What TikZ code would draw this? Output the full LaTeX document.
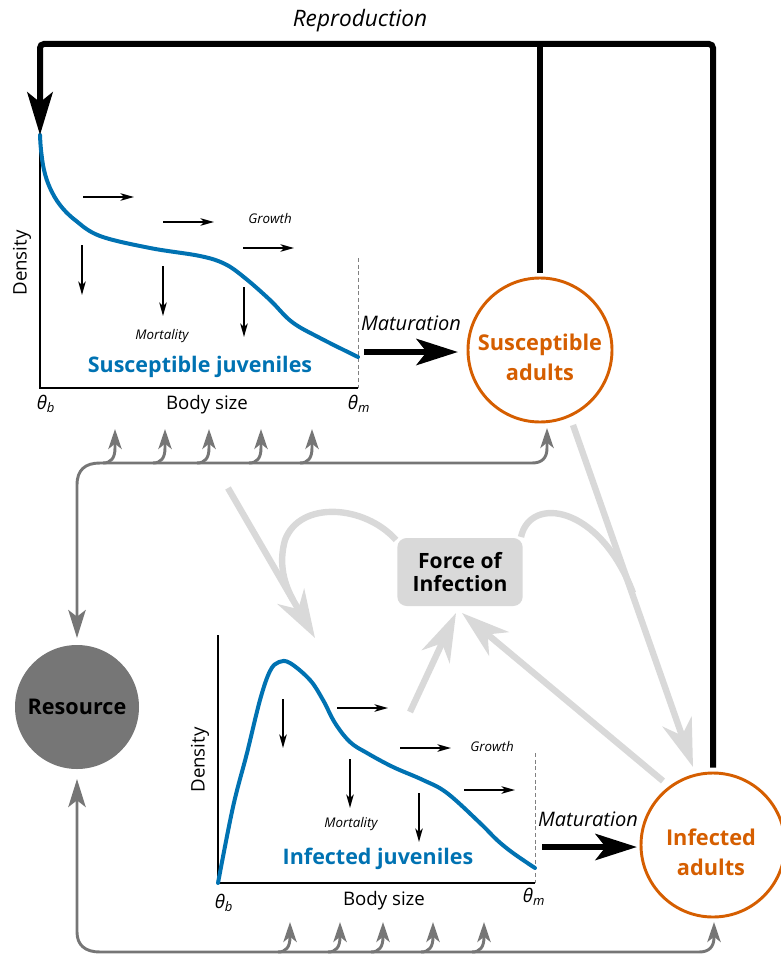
\documentclass[tikz,border=0pt]{standalone}
\usepackage{fontspec}
\setmainfont{Open Sans}
\usetikzlibrary{arrows.meta}

\definecolor{juvblue}{HTML}{0072B2}
\definecolor{adultorange}{HTML}{D55E00}
\definecolor{resgray}{HTML}{767676}
\definecolor{foigray}{HTML}{D9D9D9}

\tikzset{
  adult/.style={circle, draw=adultorange, line width=2.2pt, minimum size=108pt, inner sep=0pt},
  adulttext/.style={align=center, text=adultorange, font=\bfseries\fontsize{16.3}{22.5}\selectfont},
  resource/.style={circle, fill=resgray, minimum size=93pt, inner sep=0pt,
    font=\bfseries\fontsize{16.2}{19}\selectfont},
  foibox/.style={rectangle, rounded corners=7pt, fill=foigray, minimum width=94pt, minimum height=51pt,
    align=center, font=\bfseries\fontsize{15.8}{17.5}\selectfont},
  juvlabel/.style={text=juvblue, font=\bfseries\fontsize{16.1}{19}\selectfont},
  axislabel/.style={font=\fontsize{14}{16}\selectfont},
  smalllabel/.style={font=\itshape\fontsize{10}{11}\selectfont},
  matlabel/.style={font=\itshape\fontsize{15}{17}\selectfont},
  axis/.style={line width=1.5pt},
  limit/.style={gray, line width=0.7pt, dash pattern=on 3pt off 2pt},
  density/.style={juvblue, line width=3pt, line cap=round},
  flow/.style={line width=1.5pt, -{Stealth[length=10pt, width=5.5pt, inset=2.5pt]}},
  repro/.style={line width=4.5pt},
  matarrow/.style={line width=5pt, -{Stealth[length=31pt, width=19.5pt, inset=7.5pt]}},
  resline/.style={resgray, line width=2.2pt},
  resbranch/.style={resgray, line width=2.2pt, -{Stealth[length=15pt, width=10pt, inset=4pt]}},
  infline/.style={foigray, line width=4.8pt},
  infarrow/.style={foigray, line width=4.8pt, -{Stealth[length=36pt, width=23pt, inset=11pt]}}
}

\begin{document}
\begin{tikzpicture}[x=0.75pt, y=-0.75pt]

\useasboundingbox (0,0) rectangle (781,956);

% Define the coordinates of the two juvenile plots
\coordinate (Sorigin) at (40,388);
\coordinate (Stop) at (40,135);
\coordinate (Send) at (358,388);
\coordinate (Slimit) at (358,258);
\coordinate (Iorigin) at (218,883);
\coordinate (Itop) at (218,635);
\coordinate (Iend) at (535,883);
\coordinate (Ilimit) at (535,753);

% Define the coordinates of the reproduction loop
\coordinate (topL) at (40,44);
\coordinate (topM) at (540,44);
\coordinate (topR) at (713,44);

% Define the coordinates where the arrows start and end
\coordinate (SjOut) at (364,352);
\coordinate (SaIn) at (458,352);
\coordinate (IjOut) at (542,847);
\coordinate (IaIn) at (637,847);
\coordinate (RtopIn) at (77,638);
\coordinate (RbotIn) at (77,779);
\coordinate (SaFood) at (547,428);
\coordinate (IaFood) at (714,922);
\coordinate (SjInf) at (228,488);
\coordinate (IjInfIn) at (315,638);
\coordinate (IjInfOut) at (410,712);
\coordinate (FoiL) at (396,540);
\coordinate (FoiR) at (521,537);
\coordinate (FoiIn1) at (456,613);
\coordinate (FoiIn2) at (462,613);
\coordinate (SaOut) at (573,425);
\coordinate (IaTop) at (693,767);
\coordinate (IaOut) at (663,781);

% The compartments
\node[adult] (Sa) at (540,350) {};
\node[adulttext] (SaText) at (540,357) {Susceptible\\adults};
\node[adult] (Ia) at (713,845) {};
\node[adulttext] (IaText) at (711,852) {Infected\\adults};
\node[resource] (R) at (77,707) {Resource};
\node[foibox] (F) at (460,572) {Force of\\Infection};

% Infection arrows (light grey, drawn first)
\draw[infarrow] (SjInf) -- (IjInfIn);
\draw[infline] (FoiL) .. controls (365,505) and (300,500) .. (285,540)
  .. controls (278,565) and (285,585) .. (293,600);
\draw[infarrow] (IjInfOut) -- (FoiIn1);
\draw[infarrow] (IaOut) -- (FoiIn2);
\draw[infarrow] (SaOut) -- (IaTop);
\draw[infline] (FoiR) .. controls (530,495) and (600,505) .. (633,593);

% Susceptible juveniles plot
\draw[axis] (Stop) -- (Sorigin) -- (Send);
\draw[limit] (Slimit) -- (Send);
\draw[density] plot[smooth, tension=0.6] coordinates {(40,135) (41,150) (44,170) (50,188) (60,205)
  (75,220) (100,236) (150,248) (200,256) (225,264) (245,278) (270,300) (292,322) (320,338) (358,357)};
\foreach \gx/\gy in {83/197, 163/222, 243/248}
  \draw[flow] (\gx,\gy) -- ++(51,0);
\foreach \mx/\my in {82/245, 163/266, 244/287}
  \draw[flow] (\mx,\my) -- ++(0,50);
\node[smalllabel] (sGrowth) at (270,218) {Growth};
\node[smalllabel] (sMort) at (162,336) {Mortality};
\node[juvlabel] (sJuv) at (200,367) {Susceptible juveniles};
\node[axislabel, rotate=90] (sDens) at (22,263) {Density};
\node[axislabel] (sBody) at (207,405) {Body size};
\node[axislabel] (sThb) at (46,404) {\textit{θ}\textsubscript{\textit{b}}};
\node[axislabel] (sThm) at (359,404) {\textit{θ}\textsubscript{\textit{m}}};

% Infected juveniles plot
\draw[axis] (Itop) -- (Iorigin) -- (Iend);
\draw[limit] (Ilimit) -- (Iend);
\draw[density] plot[smooth, tension=0.6] coordinates {(218,883) (233,807) (247,753) (260,700)
  (270,671) (279,662) (290,663) (310,680) (323,700) (335,723) (350,742) (367,753) (393,767)
  (423,780) (447,793) (480,823) (497,840) (513,853) (535,868)};
\foreach \gx/\gy in {337/708, 400/748, 464/790}
  \draw[flow] (\gx,\gy) -- ++(51,0);
\foreach \mx/\my in {283/699, 350/759, 419/793}
  \draw[flow] (\mx,\my) -- ++(0,49);
\node[smalllabel] (iGrowth) at (492,746) {Growth};
\node[smalllabel] (iMort) at (351,824) {Mortality};
\node[juvlabel] (iJuv) at (378,859) {Infected juveniles};
\node[axislabel, rotate=90] (iDens) at (200,760) {Density};
\node[axislabel] (iBody) at (384,901) {Body size};
\node[axislabel] (iThb) at (224,903) {\textit{θ}\textsubscript{\textit{b}}};
\node[axislabel] (iThm) at (534,897) {\textit{θ}\textsubscript{\textit{m}}};

% Maturation
\draw[matarrow] (SjOut) -- (SaIn);
\draw[matarrow] (IjOut) -- (IaIn);
\node[matlabel] (sMat) at (411,323) {Maturation};
\node[matlabel] (iMat) at (588,819) {Maturation};

% Reproduction loop
\draw[repro, rounded corners=3pt, -{Stealth[length=32pt, width=19pt, inset=7.5pt]}]
  ([yshift=3pt]Ia.north) -- (topR) -- (topL) -- (Stop);
\draw[repro] ([yshift=3pt]Sa.north) -- (topM);
\node[matlabel, font=\itshape\fontsize{17}{19}\selectfont] (repLabel) at (360,21) {Reproduction};

% Resource feeding the susceptible stage
\draw[resline, {Stealth[length=21pt, width=13pt, inset=5pt]}-{Stealth[length=15pt, width=10pt, inset=4pt]}]
  (RtopIn) -- (77,485) .. controls (77,470) and (85,463) .. (100,463) -- (532,463)
  .. controls (542,463) and (547,458) .. (547,448) -- (SaFood);
\foreach \bx in {115, 165, 209, 261, 312}
  \draw[resbranch] (\bx-12,463) .. controls (\bx-4,463) and (\bx,458) .. (\bx,448) -- (\bx,429);

% Resource feeding the infected stage
\draw[resline, {Stealth[length=21pt, width=13pt, inset=5pt]}-{Stealth[length=15pt, width=10pt, inset=4pt]}]
  (RbotIn) -- (77,932) .. controls (77,945) and (85,952) .. (100,952) -- (699,952)
  .. controls (709,952) and (714,947) .. (714,937) -- (IaFood);
\foreach \bx in {290, 340, 383, 433, 484}
  \draw[resbranch] (\bx-12,952) .. controls (\bx-4,952) and (\bx,947) .. (\bx,937) -- (\bx,922);

\end{tikzpicture}
\end{document}
